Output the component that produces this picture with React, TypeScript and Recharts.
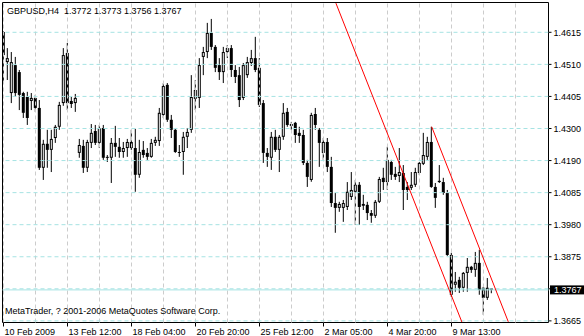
import React from 'react';
import { ComposedChart, Bar, XAxis, YAxis, ReferenceLine, ReferenceArea } from 'recharts';

// GBPUSD H4, one entry per bar (bar index = position in the array)
const opens = [
  1.4616, 1.4517, 1.4415, 1.4507, 1.4484, 1.4415, 1.4402, 1.4389, 1.4399, 1.4366,
  1.4169, 1.4248, 1.4228, 1.4267, 1.4304, 1.4382, 1.4547, 1.4389, 1.4382, 1.4218,
  1.4241, 1.4169, 1.4251, 1.4290, 1.4251, 1.4300, 1.4205, 1.4202, 1.4251, 1.4238,
  1.4221, 1.4234, 1.4254, 1.4234, 1.4146, 1.4228, 1.4218, 1.4205, 1.4251, 1.4257,
  1.4343, 1.4442, 1.4327, 1.4294, 1.4221, 1.4221, 1.4271, 1.4294, 1.4396, 1.4399,
  1.4534, 1.4550, 1.4613, 1.4567, 1.4507, 1.4484, 1.4550, 1.4563, 1.4491, 1.4474,
  1.4399, 1.4474, 1.4514, 1.4530, 1.4498, 1.4382, 1.4218, 1.4202, 1.4271, 1.4228,
  1.4271, 1.4353, 1.4313, 1.4317, 1.4284, 1.4277, 1.4185, 1.4129, 1.4346, 1.4294,
  1.4218, 1.4254, 1.4172, 1.4053, 1.4037, 1.4037, 1.4040, 1.4073, 1.4090, 1.4113,
  1.4050, 1.4047, 1.4020, 1.4011, 1.4057, 1.4136, 1.4122, 1.4188, 1.4149, 1.4142,
  1.4152, 1.4106, 1.4103, 1.4113, 1.4152, 1.4182, 1.4205, 1.4254, 1.4106, 1.4126,
  1.4122, 1.4086, 1.3882, 1.3784, 1.3800, 1.3774, 1.3823, 1.3843, 1.3833, 1.3856,
  1.3774, 1.3741, 1.3772,
];
const highs = [
  1.4619, 1.4563, 1.4550, 1.4534, 1.4491, 1.4419, 1.4419, 1.4415, 1.4409, 1.4392,
  1.4261, 1.4294, 1.4294, 1.4310, 1.4386, 1.4563, 1.4580, 1.4402, 1.4412, 1.4264,
  1.4261, 1.4261, 1.4313, 1.4310, 1.4310, 1.4310, 1.4211, 1.4267, 1.4307, 1.4267,
  1.4254, 1.4264, 1.4294, 1.4297, 1.4261, 1.4257, 1.4234, 1.4264, 1.4271, 1.4366,
  1.4448, 1.4448, 1.4343, 1.4300, 1.4244, 1.4287, 1.4300, 1.4474, 1.4458, 1.4530,
  1.4567, 1.4646, 1.4659, 1.4573, 1.4530, 1.4567, 1.4573, 1.4573, 1.4507, 1.4501,
  1.4514, 1.4534, 1.4557, 1.4600, 1.4530, 1.4392, 1.4234, 1.4287, 1.4294, 1.4277,
  1.4382, 1.4366, 1.4320, 1.4320, 1.4304, 1.4294, 1.4195, 1.4350, 1.4366, 1.4300,
  1.4267, 1.4267, 1.4205, 1.4086, 1.4057, 1.4063, 1.4122, 1.4155, 1.4129, 1.4122,
  1.4080, 1.4057, 1.4030, 1.4063, 1.4139, 1.4169, 1.4238, 1.4195, 1.4172, 1.4234,
  1.4178, 1.4122, 1.4155, 1.4169, 1.4188, 1.4284, 1.4271, 1.4304, 1.4119, 1.4178,
  1.4136, 1.4096, 1.3889, 1.3826, 1.3810, 1.3826, 1.3872, 1.3846, 1.3892, 1.3899,
  1.3777, 1.3806, 1.3773,
];
const lows = [
  1.4451, 1.4458, 1.4382, 1.4402, 1.4359, 1.4333, 1.4310, 1.4359, 1.4353, 1.4162,
  1.4129, 1.4169, 1.4155, 1.4251, 1.4294, 1.4373, 1.4359, 1.4366, 1.4353, 1.4202,
  1.4152, 1.4155, 1.4234, 1.4244, 1.4234, 1.4195, 1.4188, 1.4119, 1.4205, 1.4202,
  1.4202, 1.4205, 1.4228, 1.4090, 1.4136, 1.4202, 1.4195, 1.4202, 1.4241, 1.4241,
  1.4333, 1.4320, 1.4267, 1.4218, 1.4205, 1.4146, 1.4234, 1.4284, 1.4359, 1.4366,
  1.4474, 1.4530, 1.4557, 1.4484, 1.4458, 1.4448, 1.4530, 1.4468, 1.4448, 1.4369,
  1.4392, 1.4465, 1.4504, 1.4484, 1.4369, 1.4185, 1.4172, 1.4162, 1.4221, 1.4155,
  1.4261, 1.4304, 1.4294, 1.4251, 1.4251, 1.4178, 1.4106, 1.4123, 1.4294, 1.4172,
  1.4195, 1.4155, 1.4040, 1.3955, 1.4024, 1.3991, 1.4030, 1.4063, 1.3981, 1.3981,
  1.4030, 1.3997, 1.3988, 1.4004, 1.4053, 1.4096, 1.4096, 1.4129, 1.4129, 1.4122,
  1.4030, 1.4063, 1.4096, 1.4106, 1.4146, 1.4178, 1.4195, 1.4103, 1.4037, 1.4119,
  1.4080, 1.3879, 1.3744, 1.3761, 1.3757, 1.3761, 1.3761, 1.3823, 1.3810, 1.3751,
  1.3685, 1.3734, 1.3756,
];
const closes = [
  1.4540, 1.4530, 1.4517, 1.4415, 1.4409, 1.4350, 1.4333, 1.4399, 1.4366, 1.4169,
  1.4248, 1.4228, 1.4264, 1.4304, 1.4376, 1.4540, 1.4382, 1.4379, 1.4399, 1.4244,
  1.4169, 1.4254, 1.4284, 1.4251, 1.4300, 1.4202, 1.4202, 1.4251, 1.4238, 1.4221,
  1.4234, 1.4254, 1.4234, 1.4146, 1.4221, 1.4211, 1.4205, 1.4251, 1.4261, 1.4350,
  1.4438, 1.4327, 1.4294, 1.4221, 1.4218, 1.4271, 1.4287, 1.4402, 1.4425, 1.4507,
  1.4550, 1.4613, 1.4567, 1.4498, 1.4484, 1.4550, 1.4563, 1.4491, 1.4468, 1.4392,
  1.4507, 1.4517, 1.4530, 1.4491, 1.4376, 1.4218, 1.4205, 1.4271, 1.4228, 1.4271,
  1.4350, 1.4310, 1.4307, 1.4277, 1.4274, 1.4185, 1.4139, 1.4343, 1.4310, 1.4251,
  1.4254, 1.4172, 1.4053, 1.4037, 1.4050, 1.4053, 1.4090, 1.4096, 1.4113, 1.4040,
  1.4044, 1.4020, 1.4011, 1.4057, 1.4132, 1.4122, 1.4195, 1.4146, 1.4139, 1.4155,
  1.4096, 1.4096, 1.4113, 1.4155, 1.4185, 1.4211, 1.4254, 1.4106, 1.4070, 1.4122,
  1.4086, 1.3882, 1.3751, 1.3794, 1.3774, 1.3823, 1.3843, 1.3833, 1.3856, 1.3767,
  1.3741, 1.3774, 1.3767,
];

const timeTickBars = [0, 16, 32, 48, 64, 80, 96, 112];
const timeLabels = ['10 Feb 2009', '13 Feb 12:00', '18 Feb 04:00', '20 Feb 20:00', '25 Feb 12:00', '2 Mar 05:00', '4 Mar 20:00', '9 Mar 13:00'];
const gridBars = [0, 8, 16, 24, 32, 40, 48, 56, 64, 72, 80, 88, 96, 104, 112, 120, 128];

const priceTicks = [1.4615, 1.45094, 1.44039, 1.42983, 1.41928, 1.40872, 1.39817, 1.38761, 1.37706, 1.3665];
const priceLabels = ['1.4615', '1.4510', '1.4405', '1.4300', '1.4190', '1.4085', '1.3980', '1.3875', '', '1.3665'];

const lastPrice = 1.3767;
const channelLower = [{ bar: 83.1, price: 1.4711 }, { bar: 114.6, price: 1.3661 }];
const channelUpper = [{ bar: 107.05, price: 1.4304 }, { bar: 126.2, price: 1.3662 }];

const X_MIN = -0.25;
const X_MAX = 136.25;
const Y_MIN = 1.36597;
const Y_MAX = 1.47131;

const FONT = '"Liberation Sans", Arial, sans-serif';
const H_GRID = '#a6e3e3';
const V_GRID = '#cccccc';

const candles = opens.map((open, i) => ({
  bar: i,
  open,
  high: highs[i],
  low: lows[i],
  close: closes[i],
  range: [lows[i], highs[i]],
}));

function Candle(props: any) {
  const { x, y, width, height, payload } = props;
  if (x == null || y == null) return null;
  const { open, high, low, close } = payload;
  const top0 = Math.min(y, y + height);
  const h = Math.abs(height);
  const span = high - low || 1e-9;
  const toY = (v: number) => top0 + ((high - v) / span) * h;
  const cx = x + width / 2;
  const bodyTop = toY(Math.max(open, close));
  const bodyBottom = toY(Math.min(open, close));
  const bull = close > open;
  return (
    <g>
      <line x1={cx} x2={cx} y1={toY(high)} y2={toY(low)} stroke="#000" strokeWidth={1} />
      {bull ? (
        <rect x={cx - 1} y={bodyTop + 0.5} width={2} height={Math.max(bodyBottom - bodyTop - 1, 0)} fill="#fff" stroke="#000" strokeWidth={1} />
      ) : (
        <rect x={cx - 1.5} y={bodyTop} width={3} height={Math.max(bodyBottom - bodyTop, 1)} fill="#000" />
      )}
    </g>
  );
}

const renderPriceTick = (props: any) => {
  const { x, y, payload } = props;
  const i = priceTicks.indexOf(payload.value);
  return (
    <text x={x} y={y} dy={3.2} fontSize={9} fontFamily={FONT} fill="#000" textAnchor="start">
      {priceLabels[i] ?? ''}
    </text>
  );
};

const renderTimeTick = (props: any) => {
  const { x, y, payload } = props;
  const i = timeTickBars.indexOf(payload.value);
  return (
    <text x={x + 1} y={y} dy={6} fontSize={9} fontFamily={FONT} fill="#000" textAnchor="start">
      {timeLabels[i] ?? ''}
    </text>
  );
};

const renderPriceTag = (props: any) => {
  const vb = props.viewBox || {};
  const left = vb.x + vb.width + 1.5;
  return (
    <g>
      <rect x={left} y={vb.y - 4.5} width={34} height={9} fill="#000" />
      <text x={left + 4} y={vb.y + 3.2} fontSize={9} fontFamily={FONT} fill="#fff">
        {lastPrice.toFixed(4)}
      </text>
    </g>
  );
};

export default function App() {
  return (
    <div style={{ position: 'absolute', left: 0, top: 0, width: 584, height: 336, background: '#fff' }}>
      <ComposedChart width={584} height={336} data={candles} margin={{ top: 2.5, left: 2.5, right: 0, bottom: 0 }}>
        <XAxis
          dataKey="bar"
          type="number"
          domain={[X_MIN, X_MAX]}
          allowDataOverflow
          ticks={timeTickBars}
          interval={0}
          height={13.5}
          tickSize={4}
          tickMargin={2}
          axisLine={false}
          tickLine={{ stroke: '#000' }}
          tick={renderTimeTick}
        />
        <YAxis
          orientation="right"
          type="number"
          domain={[Y_MIN, Y_MAX]}
          allowDataOverflow
          ticks={priceTicks}
          interval={0}
          width={35.5}
          tickSize={3}
          tickMargin={2}
          axisLine={false}
          tickLine={{ stroke: '#000' }}
          tick={renderPriceTick}
        />
        {gridBars.map((b) => (
          <ReferenceLine key={`v${b}`} x={b} stroke={V_GRID} strokeDasharray="4 3" />
        ))}
        {priceTicks.map((p) => (
          <ReferenceLine key={`h${p}`} y={p} stroke={H_GRID} strokeDasharray="4 3" />
        ))}
        <ReferenceLine y={lastPrice} stroke={H_GRID} strokeWidth={1} label={renderPriceTag} />
        <Bar dataKey="range" barSize={4} isAnimationActive={false} shape={(p: any) => <Candle {...p} />} />
        <ReferenceLine
          segment={[{ x: channelLower[0].bar, y: channelLower[0].price }, { x: channelLower[1].bar, y: channelLower[1].price }]}
          stroke="#ff0000"
          ifOverflow="hidden"
        />
        <ReferenceLine
          segment={[{ x: channelUpper[0].bar, y: channelUpper[0].price }, { x: channelUpper[1].bar, y: channelUpper[1].price }]}
          stroke="#ff0000"
          ifOverflow="hidden"
        />
        <ReferenceArea x1={X_MIN} x2={X_MAX} y1={Y_MIN} y2={Y_MAX} fill="none" fillOpacity={0} stroke="#000" strokeWidth={1} />
      </ComposedChart>
      <svg width={584} height={336} style={{ position: 'absolute', left: 0, top: 0, pointerEvents: 'none' }}>
        <text x={7} y={14} fontSize={9} fontFamily={FONT} fill="#000" style={{ whiteSpace: 'pre' }}>
          GBPUSD,H4  1.3772 1.3773 1.3756 1.3767
        </text>
        <text x={5} y={314} fontSize={9} fontFamily={FONT} fill="#000">
          MetaTrader, ? 2001-2006 MetaQuotes Software Corp.
        </text>
      </svg>
    </div>
  );
}
